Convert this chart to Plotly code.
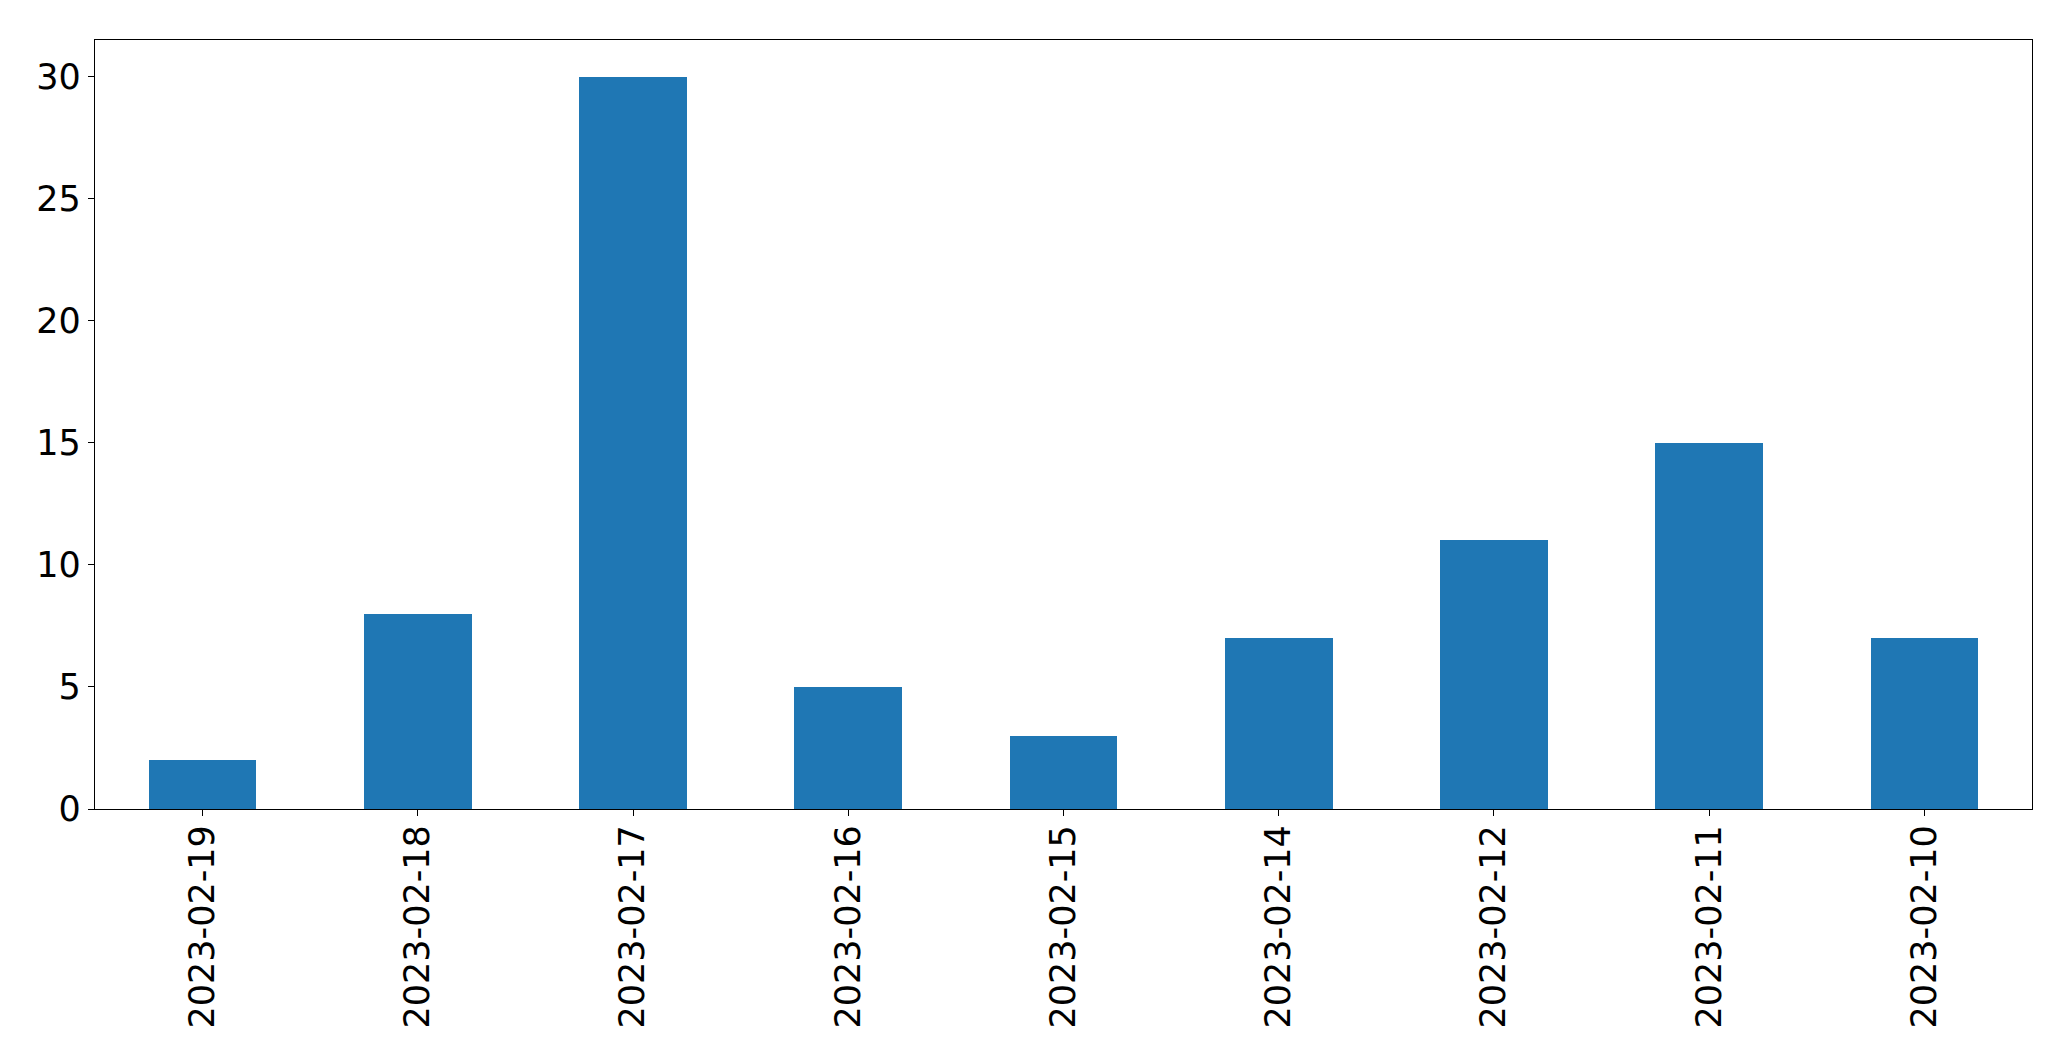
import plotly.graph_objects as go

dates = ["2023-02-19", "2023-02-18", "2023-02-17", "2023-02-16", "2023-02-15",
         "2023-02-14", "2023-02-12", "2023-02-11", "2023-02-10"]
counts = [2, 8, 30, 5, 3, 7, 11, 15, 7]
y_ticks = [0, 5, 10, 15, 20, 25, 30]

fig = go.Figure(go.Bar(x=dates, y=counts, width=0.5, marker=dict(color="#1f77b4", line=dict(width=0))))

fig.update_layout(
    width=2071, height=1061,
    margin=dict(l=95, r=39, t=40, b=252),
    plot_bgcolor="white", paper_bgcolor="white",
    font=dict(family="DejaVu Sans", size=35, color="black"),
    showlegend=False,
    bargap=0,
)
fig.update_xaxes(
    type="category", range=[-0.5, 8.5], tickangle=-90, automargin=False,
    showline=True, linecolor="black", linewidth=1.3, mirror=True,
    ticks="outside", ticklen=6, tickwidth=1.3, tickcolor="black",
    showgrid=False, zeroline=False, ticklabelstandoff=-5,
)
fig.update_yaxes(
    range=[0, 31.5], tickvals=y_ticks, ticktext=[str(v) for v in y_ticks], automargin=False,
    showline=True, linecolor="black", linewidth=1.3, mirror=True,
    ticks="outside", ticklen=6, tickwidth=1.3, tickcolor="black",
    showgrid=False, zeroline=False, ticklabelstandoff=0,
)

fig.write_html("out.html", config={"displayModeBar": False},
               post_script="document.body.style.margin='0';document.body.style.overflow='hidden';")
